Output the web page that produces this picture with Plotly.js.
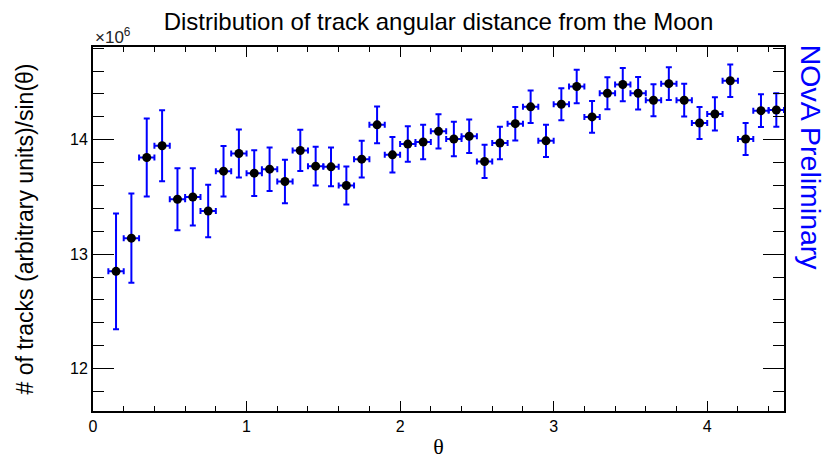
<!DOCTYPE html>
<html>
<head>
<meta charset="utf-8">
<script src="https://cdn.plot.ly/plotly-3.0.1.min.js"></script>
<style>
  html, body { margin: 0; padding: 0; background: #ffffff; }
  #chart { width: 827px; height: 460px; }
</style>
</head>
<body>
<div id="chart"></div>
<script>
// Bin centres of the angular distance histogram (bin width 0.1)
var theta = [0.15, 0.25, 0.35, 0.45, 0.55, 0.65, 0.75, 0.85, 0.95, 1.05,
             1.15, 1.25, 1.35, 1.45, 1.55, 1.65, 1.75, 1.85, 1.95, 2.05,
             2.15, 2.25, 2.35, 2.45, 2.55, 2.65, 2.75, 2.85, 2.95, 3.05,
             3.15, 3.25, 3.35, 3.45, 3.55, 3.65, 3.75, 3.85, 3.95, 4.05,
             4.15, 4.25, 4.35, 4.45];

// Half bin width, drawn as horizontal error
var halfBin = [0.05, 0.05, 0.05, 0.05, 0.05, 0.05, 0.05, 0.05, 0.05, 0.05,
               0.05, 0.05, 0.05, 0.05, 0.05, 0.05, 0.05, 0.05, 0.05, 0.05,
               0.05, 0.05, 0.05, 0.05, 0.05, 0.05, 0.05, 0.05, 0.05, 0.05,
               0.05, 0.05, 0.05, 0.05, 0.05, 0.05, 0.05, 0.05, 0.05, 0.05,
               0.05, 0.05, 0.05, 0.05];

// Tracks per sin(theta), in units of 10^6
var tracks = [12.85, 13.14, 13.845, 13.947, 13.48, 13.50, 13.377, 13.725, 13.88, 13.708,
              13.743, 13.635, 13.906, 13.769, 13.763, 13.60, 13.83, 14.13, 13.868, 13.962,
              13.98, 14.073, 14.006, 14.03, 13.81, 13.971, 14.14, 14.287, 13.99, 14.31,
              14.465, 14.199, 14.406, 14.482, 14.406, 14.345, 14.49, 14.345, 14.146, 14.225,
              14.515, 14.006, 14.254, 14.26];

// Statistical uncertainty, in units of 10^6
var tracksErr = [0.505, 0.39, 0.34, 0.31, 0.27, 0.25, 0.23, 0.22, 0.21, 0.20,
                 0.19, 0.19, 0.18, 0.17, 0.17, 0.165, 0.16, 0.16, 0.155, 0.155,
                 0.15, 0.15, 0.15, 0.146, 0.145, 0.142, 0.146, 0.142, 0.14, 0.14,
                 0.146, 0.139, 0.14, 0.145, 0.142, 0.14, 0.142, 0.143, 0.14, 0.145,
                 0.142, 0.14, 0.143, 0.146];

var xTickVals = [0, 1, 2, 3, 4];
var xTickText = ['0', '1', '2', '3', '4'];
var yTickVals = [12, 13, 14];
var yTickText = ['12', '13', '14'];

var errBlue = '#0000ff';

var trace = {
  x: theta,
  y: tracks,
  type: 'scatter',
  mode: 'markers',
  marker: { color: '#000000', size: 9, symbol: 'circle' },
  error_y: { type: 'data', array: tracksErr, visible: true, color: errBlue, thickness: 2, width: 3 },
  error_x: { type: 'data', array: halfBin, visible: true, color: errBlue, thickness: 2, width: 3 },
  hoverinfo: 'x+y'
};

var axisFont = { family: 'Liberation Sans, Arial, sans-serif', size: 16, color: '#000000' };

var layout = {
  width: 827,
  height: 460,
  paper_bgcolor: '#ffffff',
  plot_bgcolor: '#ffffff',
  margin: { l: 93, r: 43, t: 47, b: 49, pad: 0 },
  showlegend: false,
  title: {
    text: 'Distribution of track angular distance from the Moon',
    font: { family: 'Liberation Sans, Arial, sans-serif', size: 24, color: '#000000' },
    x: 0.5, xref: 'paper', xanchor: 'center',
    y: 0.952, yref: 'container', yanchor: 'middle'
  },
  xaxis: {
    range: [0, 4.5],
    tickmode: 'array', tickvals: xTickVals, ticktext: xTickText,
    ticks: 'inside', ticklen: 10, tickwidth: 1, tickcolor: '#000000',
    minor: { dtick: 0.2, tick0: 0, ticks: 'inside', ticklen: 5, tickwidth: 1, tickcolor: '#000000' },
    showline: true, linecolor: '#000000', linewidth: 2, mirror: 'ticks',
    showgrid: false, zeroline: false,
    tickfont: axisFont,
    title: {
      text: 'θ',
      font: { family: 'Liberation Serif, Times New Roman, serif', size: 22, color: '#000000' },
      standoff: 4
    }
  },
  yaxis: {
    range: [11.63, 14.81],
    tickmode: 'array', tickvals: yTickVals, ticktext: yTickText,
    ticks: 'inside', ticklen: 21, tickwidth: 1, tickcolor: '#000000',
    minor: { dtick: 0.2, tick0: 0, ticks: 'inside', ticklen: 11, tickwidth: 1, tickcolor: '#000000' },
    showline: true, linecolor: '#000000', linewidth: 2, mirror: 'ticks',
    showgrid: false, zeroline: false,
    tickfont: axisFont,
    title: {
      text: '# of tracks (arbitrary units)/sin(θ)',
      font: { family: 'Liberation Sans, Arial, sans-serif', size: 23, color: '#000000' },
      standoff: 30
    }
  },
  annotations: [
    {
      text: '×10<sup>6</sup>',
      xref: 'paper', yref: 'paper', x: 0, y: 1,
      xanchor: 'left', yanchor: 'bottom', yshift: -2,
      showarrow: false,
      font: { family: 'Liberation Sans, Arial, sans-serif', size: 17, color: '#222222' }
    },
    {
      text: 'NOvA Preliminary',
      xref: 'paper', yref: 'paper', x: 1.0395, y: 0.695,
      xanchor: 'center', yanchor: 'middle',
      textangle: 90,
      showarrow: false,
      font: { family: 'Liberation Sans, Arial, sans-serif', size: 28.5, color: '#0000ff' }
    }
  ]
};

Plotly.newPlot('chart', [trace], layout, { displayModeBar: false, staticPlot: true });
</script>
</body>
</html>
